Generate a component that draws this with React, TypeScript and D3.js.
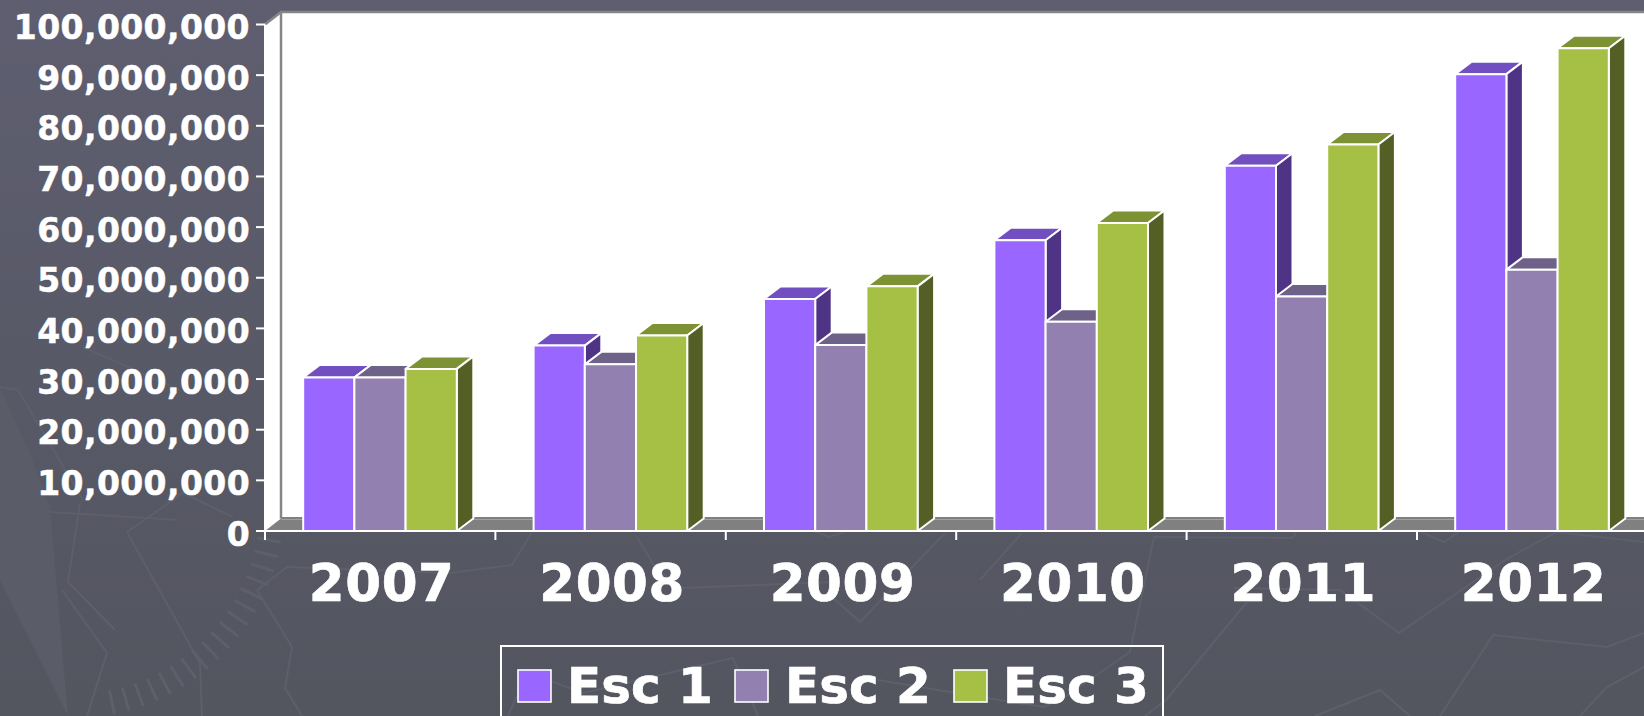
import React from "react";
import * as d3 from "d3";

const years = ["2007", "2008", "2009", "2010", "2011", "2012"];
const seriesNames = ["Esc 1", "Esc 2", "Esc 3"];
const esc1 = [30300000, 36600000, 45800000, 57400000, 72100000, 90200000];
const esc2 = [30300000, 32900000, 36700000, 41300000, 46300000, 51600000];
const esc3 = [32000000, 38600000, 48300000, 60800000, 76300000, 95300000];
const faces = [
  { front: "#9966FF", top: "#714FC0", side: "#4F3385" },
  { front: "#9280B0", top: "#6F6288", side: "#4D4260" },
  { front: "#A5C045", top: "#7D9233", side: "#535F24" },
];
const yTicks = d3.range(0, 100000001, 10000000);
const FONT = "'DejaVu Sans', Verdana, sans-serif";

const DX = 16.5;
const DY = -12.5;
const x0 = 265;
const y = d3.scaleLinear().domain([0, 100000000]).range([531, 24.5]);
const xCat = d3.scaleBand<string>().domain(years).range([x0, x0 + 230.4 * 6]);
const xSer = d3.scaleBand<string>().domain(seriesNames).range([38.2, 38.2 + 153.6]);
const fmt = d3.format(",");

function Bar({ x, w, v, c }: { x: number; w: number; v: number; c: (typeof faces)[number] }) {
  const t = y(v);
  const b = y(0);
  return (
    <g stroke="#fff" strokeWidth={2} strokeLinejoin="round">
      <path fill={c.top} d={`M${x},${t}l${DX},${DY}h${w}l${-DX},${-DY}z`} />
      <path fill={c.side} d={`M${x + w},${t}l${DX},${DY}V${b + DY}l${-DX},${-DY}z`} />
      <rect fill={c.front} x={x} y={t} width={w} height={b - t} />
    </g>
  );
}

const needle = "M0,387 L30,453 L50,507 L68,716 L0,580 Z";
const bgLines = [
  "M0,387 L18,390 L67,473 L83,500",
  "M50,512 L177,520",
  "M80,503 L68,582 L115,630",
  "M62,590 L107,653 L87,716",
  "M127,532 L200,663 L202,716",
  "M127,532 L183,493 L233,517",
  "M83,347 L180,390",
  "M257,590 L292,647 L285,688 L302,716",
  "M257,590 L287,567 L450,573 L512,565 L532,532",
  "M637,537 L655,567 L682,588 L833,582",
  "M833,598 L860,622 L945,533",
  "M811,530 L829,537 L851,530",
  "M508,716 L521,687 L548,680 L583,693 L733,658 L758,716",
  "M878,680 L980,697 L1044,707 L1065,697 L1130,652 L1154,537 L1293,538 L1296,532",
  "M980,580 L1022,533",
  "M1247,602 L1166,700 L1145,716",
  "M1234,588 L1340,590 L1399,633 L1505,560 L1556,532 L1644,542",
  "M1421,532 L1444,542 L1459,532",
  "M1440,716 L1493,635 L1607,647 L1644,633",
  "M1644,667 L1607,687 L1580,716",
  "M1315,716 L1380,690 L1410,716",
  "M0,120 L37,133",
  "M97,33 L120,67",
  "M157,60 L173,52 L247,63 L260,97",
  "M220,163 L250,140",
  "M1644,5 L1400,5",
];
const compassAngles = d3.range(10, 82, 4);

export default function App() {
  const yb = y(0);
  return (
    <svg width={1644} height={716} style={{ position: "fixed", left: 0, top: 0, display: "block" }} fontFamily={FONT}>
      <defs>
        <linearGradient id="bg" x1="0" y1="0" x2="0" y2="1">
          <stop offset="0" stopColor="#5E5E70" />
          <stop offset="1" stopColor="#53555F" />
        </linearGradient>
      </defs>
      <rect width={1644} height={716} fill="url(#bg)" />
      <path d={needle} fill="#5A5C68" />
      {bgLines.map((d, i) => (
        <path key={i} d={d} fill="none" stroke="#5D5F6B" strokeWidth={2} />
      ))}
      {compassAngles.map((a) => {
        const r = (a * Math.PI) / 180;
        return (
          <line
            key={a}
            x1={70 + 190 * Math.cos(r)}
            y1={505 + 190 * Math.sin(r)}
            x2={70 + 214 * Math.cos(r)}
            y2={505 + 214 * Math.sin(r)}
            stroke="#5D5F6B"
            strokeWidth={3}
          />
        );
      })}
      <rect x={x0 + 16} y={y(100000000) + DY} width={1644 - x0 - 16} height={yb - y(100000000)} fill="#fff" />
      <path d={`M${x0},${yb}V${y(100000000)}l16,${DY}V${yb + DY}z`} fill="#fff" stroke="#fff" strokeWidth={1.5} />
      <path d={`M${x0},${y(100000000)}l16,${DY}H1644`} fill="none" stroke="#868686" strokeWidth={2.5} />
      <path d={`M${x0 + 16},${y(100000000) + DY}V${yb + DY}`} fill="none" stroke="#868686" strokeWidth={2.5} />
      <path d={`M${x0},${yb}l16,${DY}V${yb + DY - 1.5}H1644V${yb}z`} fill="#808080" />
      <path d={`M${x0 + 16},${yb + DY + 1}H1644`} stroke="#A0A0A0" strokeWidth={1} />

      {years.map((yr, i) => (
        <g key={yr} transform={`translate(${xCat(yr)},0)`}>
          {seriesNames.map((s, j) => (
            <Bar key={s} x={xSer(s)!} w={xSer.bandwidth()} v={[esc1, esc2, esc3][j][i]} c={faces[j]} />
          ))}
        </g>
      ))}

      <path d={`M${x0},${yb}H1644`} stroke="#fff" strokeWidth={2} />
      <path d={`M${x0},${y(100000000)}V${yb}`} stroke="#fff" strokeWidth={2} />
      {yTicks.map((t) => (
        <g key={t}>
          <line x1={x0 - 9} x2={x0} y1={y(t)} y2={y(t)} stroke="#fff" strokeWidth={2} />
          <text x={250} y={y(t) + 14.5} textAnchor="end" fontSize={33} letterSpacing={0.4} fontWeight={700} fill="#fff" stroke="#fff" strokeWidth={0.5}>
            {fmt(t)}
          </text>
        </g>
      ))}
      {years.map((yr) => (
        <g key={yr}>
          <line x1={xCat(yr)!} x2={xCat(yr)!} y1={yb} y2={yb + 9} stroke="#fff" strokeWidth={2} />
          <text x={xCat(yr)! + 116.7} y={601} textAnchor="middle" fontSize={51.5} letterSpacing={0.6} fontWeight={700} fill="#fff" stroke="#fff" strokeWidth={0.7}>
            {yr}
          </text>
        </g>
      ))}

      <rect x={501} y={646} width={662} height={90} fill="none" stroke="#fff" strokeWidth={2} />
      {seriesNames.map((s, i) => {
        const sx = [518, 735, 954][i];
        const tx = [567, 785, 1003][i];
        return (
          <g key={s}>
            <rect x={sx} y={670} width={33} height={32} fill={faces[i].front} stroke="#fff" strokeWidth={1.6} />
            <text x={tx} y={703} fontSize={50} fontWeight={700} fill="#fff" stroke="#fff" strokeWidth={0.7}>
              {s}
            </text>
          </g>
        );
      })}
    </svg>
  );
}
